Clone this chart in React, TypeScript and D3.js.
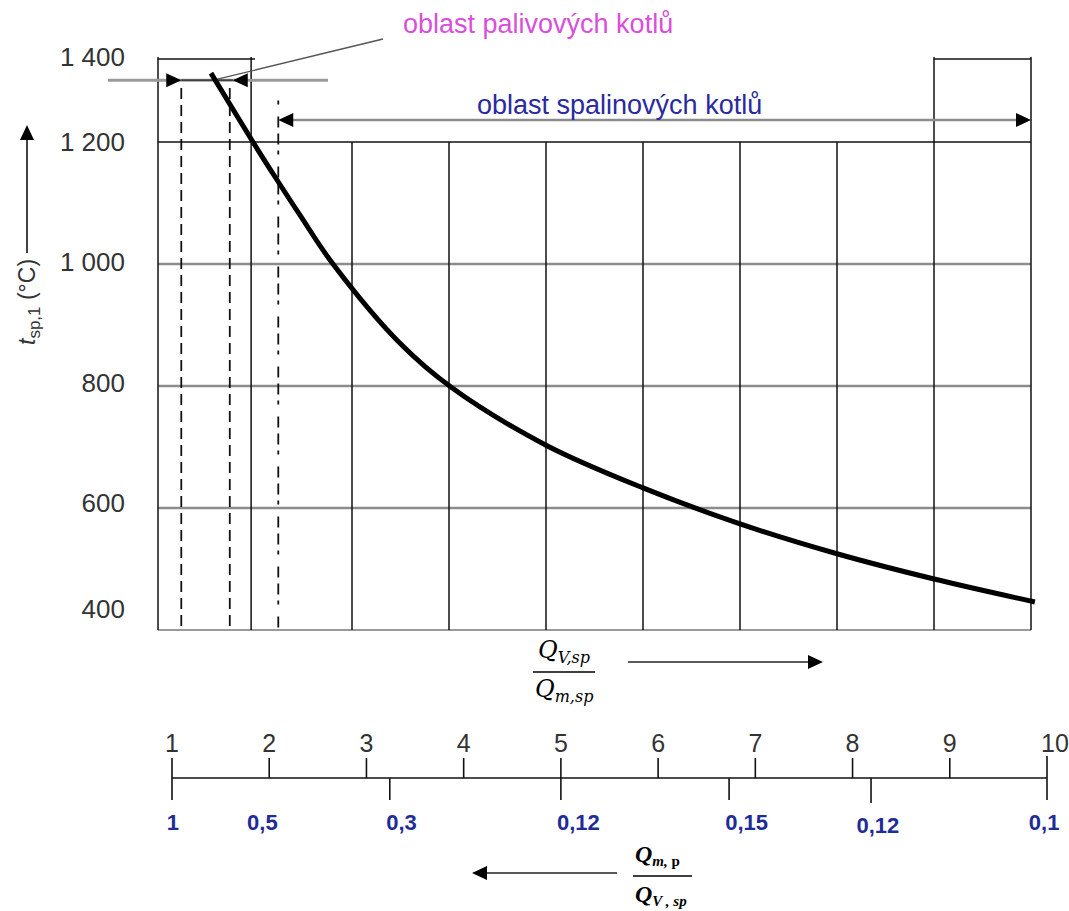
import React from 'react';
import * as d3 from 'd3';

// curve: flue gas temperature vs. ratio Q_V,sp / Q_m,sp
const ratio = [1.546, 1.979, 2.206, 2.464, 2.804, 3.495, 4.03, 5.0, 6.0, 7.0, 8.0, 8.99, 10.04];
const temperature = [1366, 1200, 1143, 1080, 1000, 870, 797, 703, 633, 574, 525, 484, 446];

const tempTicks = [1400, 1200, 1000, 800, 600, 400];
const tempTickLabels = ['1 400', '1 200', '1 000', '800', '600', '400'];
const grayTemps = [1000, 800, 600];
const gridRatios = [3, 4, 5, 6, 7, 8];
const ratioTicks = [1, 2, 3, 4, 5, 6, 7, 8, 9, 10];

// inverse scale Q_m,p / Q_V,sp under the main axis
const inverseTicks = [1, 3.24, 5, 6.73, 8.19, 10];
const inverseLabels = ['1', '0,5', '0,3', '0,12', '0,15', '0,12', '0,1'];
const inverseLabelAt = [1.01, 1.93, 3.36, 5.18, 6.91, 8.26, 9.97];

// regions
const fuelBoxEnd = 1.96;
const fuelRange = [1.24, 1.74];
const fluegasStart = 2.24;
const fuelLevel = 1349;
const fluegasLevel = 1253;

const W = 1069;
const H = 911;

const x = d3.scaleLinear().domain([1, 10]).range([158, 1031]);
const y = d3.scaleLinear().domain([400, 1200, 1400]).range([630, 142, 59]);
const yLabel = d3.scaleLinear().domain([400, 600, 1200, 1400]).range([609, 503, 142, 57]);
const xb = d3.scaleLinear().domain([1, 10]).range([172, 1047]);

const arrowHead = (tx: number, ty: number, dir: 'l' | 'r' | 'u', len = 15, hw = 7) => {
  if (dir === 'r') return `M${tx},${ty}L${tx - len},${ty - hw}L${tx - len},${ty + hw}Z`;
  if (dir === 'l') return `M${tx},${ty}L${tx + len},${ty - hw}L${tx + len},${ty + hw}Z`;
  return `M${tx},${ty}L${tx - hw},${ty + len}L${tx + hw},${ty + len}Z`;
};

const sans = 'Liberation Sans, Arial, sans-serif';

export default function App() {
  const curve = d3.line<number>()
    .x((d, i) => x(ratio[i]))
    .y(d => y(d))
    .curve(d3.curveCatmullRom.alpha(0.5))(temperature) || '';

  const top = y(1400);
  const bottom = y(400);
  const fy = y(fuelLevel);
  const gy = y(fluegasLevel);

  return (
    <svg width={W} height={H} style={{ position: 'absolute', left: 0, top: 0, background: '#fff' }}>
      {/* gray horizontal grid */}
      {grayTemps.map(t => (
        <line key={t} x1={x(1)} x2={x(10)} y1={y(t)} y2={y(t)} stroke="#8c8c8c" strokeWidth={2.5} />
      ))}
      <line x1={x(1)} x2={x(10)} y1={bottom} y2={bottom} stroke="#9a9a9a" strokeWidth={2} />
      <line x1={x(1)} x2={x(10)} y1={y(1200)} y2={y(1200)} stroke="#111" strokeWidth={1.6} />

      {/* vertical grid */}
      {gridRatios.map(r => (
        <line key={r} x1={x(r)} x2={x(r)} y1={y(1200)} y2={bottom} stroke="#111" strokeWidth={1.5} />
      ))}
      {[1, fuelBoxEnd, 9, 10].map(r => (
        <line key={r} x1={x(r)} x2={x(r)} y1={top - 2} y2={bottom} stroke="#111" strokeWidth={1.5} />
      ))}
      <line x1={x(1)} x2={x(2)} y1={top} y2={top} stroke="#111" strokeWidth={1.5} />
      <line x1={x(9)} x2={x(10)} y1={top} y2={top} stroke="#111" strokeWidth={1.5} />

      {/* dashed region limits */}
      {fuelRange.map(r => (
        <line key={r} x1={x(r)} x2={x(r)} y1={y(1330)} y2={bottom} stroke="#111" strokeWidth={1.8} strokeDasharray="11,6" />
      ))}
      <line x1={x(fluegasStart)} x2={x(fluegasStart)} y1={y(1300)} y2={bottom} stroke="#111" strokeWidth={1.8} strokeDasharray="4,12,11,6,11,6" />

      {/* fuel boiler range marker */}
      <line x1={108} x2={328} y1={fy} y2={fy} stroke="#9a9a9a" strokeWidth={3} />
      <line x1={x(fuelRange[0])} x2={x(fuelRange[1]) + 3} y1={fy} y2={fy} stroke="#222" strokeWidth={1.2} />
      <path d={arrowHead(x(fuelRange[0]), fy, 'r')} fill="#000" />
      <path d={arrowHead(x(fuelRange[1]) + 3, fy, 'l')} fill="#000" />
      <line x1={x(1.57)} y1={fy} x2={383} y2={39} stroke="#555" strokeWidth={1.3} />
      <text x={403} y={33} fontFamily={sans} fontSize={27} fill="#d94fd9">oblast palivových kotlů</text>

      {/* flue gas boiler range marker */}
      <line x1={x(fluegasStart) + 10} x2={x(10) - 10} y1={gy} y2={gy} stroke="#8c8c8c" strokeWidth={2.5} />
      <path d={arrowHead(x(fluegasStart), gy, 'l')} fill="#000" />
      <path d={arrowHead(x(10), gy, 'r')} fill="#000" />
      <text x={477} y={114} fontFamily={sans} fontSize={27} fill="#2a2a9e">oblast spalinových kotlů</text>

      {/* curve */}
      <path d={curve} fill="none" stroke="#000" strokeWidth={5} />

      {/* y tick labels */}
      {tempTicks.map((t, i) => (
        <text key={t} x={125} y={yLabel(t)} dy="0.35em" textAnchor="end" fontFamily={sans} fontSize={26} fill="#333">
          {tempTickLabels[i]}
        </text>
      ))}

      {/* y title */}
      <text transform="translate(35,345) rotate(-90)" fontFamily={sans} fontSize={23} fill="#333">
        <tspan fontStyle="italic">t</tspan>
        <tspan fontSize={17} dy={5}>sp,1</tspan>
        <tspan dy={-5}> (°C)</tspan>
      </text>
      <line x1={27} x2={27} y1={253} y2={136} stroke="#111" strokeWidth={1.6} />
      <path d={arrowHead(27, 125, 'u')} fill="#000" />

      {/* x label fraction */}
      <text x={538} y={658} fontFamily="DejaVu Serif, serif" fontStyle="italic" fontSize={24}>
        Q<tspan fontSize={16} dy={5}>V,sp</tspan>
      </text>
      <line x1={533} x2={595} y1={672} y2={672} stroke="#000" strokeWidth={1.5} />
      <text x={535} y={697} fontFamily="DejaVu Serif, serif" fontStyle="italic" fontSize={24}>
        Q<tspan fontSize={16} dy={5}>m,sp</tspan>
      </text>
      <line x1={628} x2={812} y1={662} y2={662} stroke="#222" strokeWidth={1.6} />
      <path d={arrowHead(823, 662, 'r')} fill="#000" />

      {/* bottom axis */}
      <line x1={xb(1)} x2={xb(10)} y1={778} y2={778} stroke="#111" strokeWidth={1.5} />
      {ratioTicks.map(r => (
        <g key={r}>
          <line x1={xb(r)} x2={xb(r)} y1={r === 10 ? 756 : 758} y2={778} stroke="#111" strokeWidth={1.6} />
          <text x={xb(r) + (r === 10 ? 8 : 0)} y={752} textAnchor="middle" fontFamily={sans} fontSize={25} fill="#333">{r}</text>
        </g>
      ))}
      {inverseTicks.map(r => (
        <line key={r} x1={xb(r)} x2={xb(r)} y1={778} y2={r === 8.19 ? 803 : 800} stroke="#111" strokeWidth={1.6} />
      ))}
      {inverseLabels.map((l, i) => (
        <text key={i} x={xb(inverseLabelAt[i])} y={i === 5 ? 833 : 830} textAnchor="middle" fontFamily={sans}
          fontSize={22} fontWeight="bold" fill="#1f2b96">{l}</text>
      ))}

      {/* bottom fraction */}
      <line x1={617} x2={485} y1={873} y2={873} stroke="#222" strokeWidth={1.6} />
      <path d={arrowHead(472, 873, 'l')} fill="#000" />
      <text x={635} y={862} fontFamily="Liberation Serif, serif" fontStyle="italic" fontWeight="bold" fontSize={24}>
        Q<tspan fontSize={15} dy={4}>m, </tspan><tspan fontSize={15} fontStyle="normal">p</tspan>
      </text>
      <line x1={633} x2={692} y1={876} y2={876} stroke="#000" strokeWidth={1.5} />
      <text x={635} y={902} fontFamily="Liberation Serif, serif" fontStyle="italic" fontWeight="bold" fontSize={24}>
        Q<tspan fontSize={15} dy={4}>V , sp</tspan>
      </text>
    </svg>
  );
}
